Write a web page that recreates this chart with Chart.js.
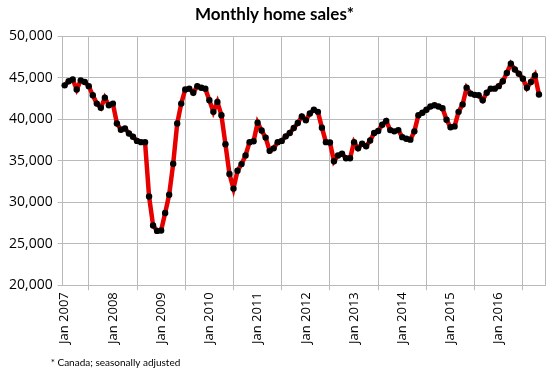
<!DOCTYPE html>
<html>
<head>
<meta charset="utf-8">
<script src="https://cdn.jsdelivr.net/npm/chart.js@4/dist/chart.umd.min.js"></script>
<style>
  body { margin: 0; background: #fff; }
  canvas { display: block; }
</style>
</head>
<body>
<canvas id="grafico" width="550" height="378"></canvas>
<script>
// months Jan 2007 .. Dec 2016
var years = [2007, 2008, 2009, 2010, 2011, 2012, 2013, 2014, 2015, 2016];
var monthNames = ['Jan', 'Feb', 'Mar', 'Apr', 'May', 'Jun', 'Jul', 'Aug', 'Sep', 'Oct', 'Nov', 'Dec'];

// monthly home sales, seasonally adjusted
var sales2007 = [44100, 44600, 44800, 43600, 44700, 44500, 44000, 42900, 41900, 41400, 42600, 41700];
var sales2008 = [41900, 39500, 38750, 38900, 38300, 37900, 37400, 37250, 37250, 30700, 27200, 26550];
var sales2009 = [26600, 28700, 30900, 34650, 39500, 41900, 43600, 43700, 43200, 44000, 43800, 43700];
var sales2010 = [42300, 40900, 42100, 40500, 37000, 33400, 31650, 33800, 34600, 35650, 37250, 37350];
var sales2011 = [39600, 38650, 37800, 36200, 36500, 37250, 37400, 37950, 38350, 38950, 39550, 40350];
var sales2012 = [39900, 40700, 41150, 40900, 39000, 37250, 37200, 34950, 35650, 35850, 35300, 35300];
var sales2013 = [37250, 36500, 37050, 36750, 37450, 38350, 38600, 39350, 39800, 38700, 38550, 38700];
var sales2014 = [37850, 37650, 37550, 38550, 40500, 40800, 41150, 41550, 41700, 41550, 41350, 39950];
var sales2015 = [39050, 39150, 40900, 41800, 43800, 43100, 42950, 42900, 42300, 43200, 43700, 43700];
var sales2016 = [44000, 44600, 45600, 46700, 46000, 45500, 44900, 43800, 44500, 45300, 43000];

var yTicksMin = 20000;
var yTicksMax = 50000;
var yTicksStep = 5000;

var etiquetas = [];
years.forEach(function(anio) {
  monthNames.forEach(function(mes) {
    etiquetas.push(mes + ' ' + anio);
  });
});

var ventas = [].concat(sales2007, sales2008, sales2009, sales2010, sales2011,
  sales2012, sales2013, sales2014, sales2015, sales2016);

var fuente = '"Open Sans", Lato, sans-serif';
var fuenteTitulo = 'Lato, "Open Sans", sans-serif';
var gris = '#bababa';

// footnote and right edge of the plot box
var extras = {
  id: 'extras',
  afterDraw: function(chart) {
    var ctx = chart.ctx;
    var area = chart.chartArea;
    ctx.save();
    ctx.strokeStyle = gris;
    ctx.lineWidth = 1;
    ctx.beginPath();
    ctx.moveTo(Math.round(area.right) + 0.5, area.top);
    ctx.lineTo(Math.round(area.right) + 0.5, area.bottom);
    ctx.stroke();
    ctx.fillStyle = '#000';
    ctx.font = '10px ' + fuenteTitulo;
    ctx.textBaseline = 'alphabetic';
    ctx.textAlign = 'left';
    ctx.fillText('* Canada; seasonally adjusted', area.left - 12, chart.height - 12);
    ctx.restore();
  }
};

new Chart(document.getElementById('grafico'), {
  type: 'line',
  data: {
    labels: etiquetas,
    datasets: [{
      label: 'Monthly home sales',
      data: ventas,
      borderColor: '#e60000',
      borderWidth: 4.5,
      pointRadius: 3.2,
      pointBackgroundColor: '#000',
      pointBorderWidth: 0,
      tension: 0
    }]
  },
  options: {
    responsive: false,
    animation: false,
    layout: { padding: { left: 4, right: 5, top: 0, bottom: 32 } },
    plugins: {
      legend: { display: false },
      tooltip: { enabled: false },
      title: {
        display: true,
        text: 'Monthly home sales*',
        color: '#000',
        font: { family: fuenteTitulo, size: 17, weight: 'bold' },
        padding: { top: 4, bottom: 12 }
      }
    },
    scales: {
      x: {
        type: 'category',
        offset: true,
        grid: { color: gris, offset: true, tickLength: 5 },
        border: { color: gris },
        ticks: {
          autoSkip: false,
          minRotation: 90,
          maxRotation: 90,
          padding: 2,
          color: '#000',
          font: { family: fuente, size: 13 },
          callback: function(valor, i) {
            return i % 12 === 0 ? this.getLabelForValue(valor) : null;
          }
        }
      },
      y: {
        min: yTicksMin,
        max: yTicksMax,
        grid: { color: gris, tickLength: 5 },
        border: { color: gris },
        ticks: {
          stepSize: yTicksStep,
          padding: 5,
          color: '#000',
          font: { family: fuente, size: 14 },
          callback: function(valor) {
            return valor.toLocaleString('en-US');
          }
        }
      }
    }
  },
  plugins: [extras]
});
</script>
</body>
</html>
